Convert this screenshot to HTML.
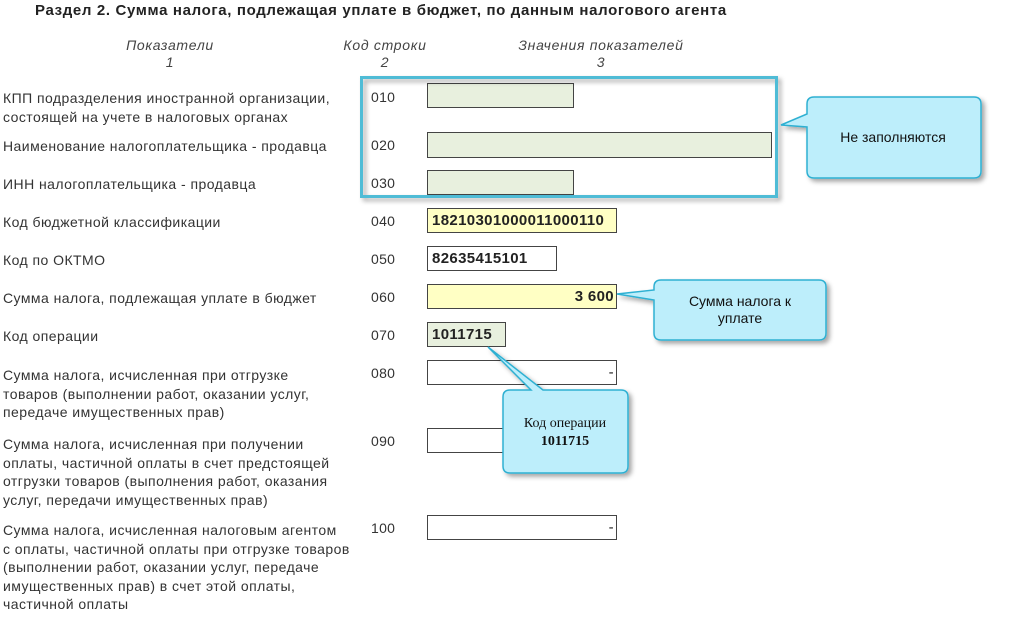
<!DOCTYPE html>
<html><head><meta charset="utf-8">
<style>
body{margin:0;width:1015px;height:627px;background:#fff;position:relative;overflow:hidden;font-family:"Liberation Sans",Arial,sans-serif;color:#333;}
.a{position:absolute;white-space:nowrap;}
.t{font-size:15px;font-weight:bold;color:#222;left:35px;top:2px;letter-spacing:0.65px;}
.h{font-size:14px;font-style:italic;color:#444;text-align:center;line-height:17px;letter-spacing:0.7px;}
.l{font-size:14px;line-height:18.5px;left:3px;letter-spacing:0.45px;}
.c{font-size:14px;left:371px;letter-spacing:0.3px;}
.b{position:absolute;border:1px solid #444;box-sizing:border-box;font-size:15px;font-weight:bold;color:#222;line-height:23px;padding:0 4px;background:#fff;letter-spacing:0.35px;}
.g{background:#e8f0de;}
.y{background:#ffffc4;}
.r{text-align:right;padding-right:2px;}
svg{position:absolute;left:0;top:0;}
</style></head><body>
<div class="a t">Раздел 2. Сумма налога, подлежащая уплате в бюджет, по данным налогового агента</div>
<div class="a h" style="left:80px;top:37px;width:180px">Показатели<br>1</div>
<div class="a h" style="left:315px;top:37px;width:140px">Код строки<br>2</div>
<div class="a h" style="left:490px;top:37px;width:222px">Значения показателей<br>3</div>

<div class="a l" style="top:89px">КПП подразделения иностранной организации,<br>состоящей на учете в налоговых органах</div>
<div class="a l" style="top:137px">Наименование налогоплательщика - продавца</div>
<div class="a l" style="top:175px">ИНН налогоплательщика - продавца</div>
<div class="a l" style="top:213px">Код бюджетной классификации</div>
<div class="a l" style="top:251px">Код по ОКТМО</div>
<div class="a l" style="top:289px">Сумма налога, подлежащая уплате в бюджет</div>
<div class="a l" style="top:327px">Код операции</div>
<div class="a l" style="top:366px">Сумма налога, исчисленная при отгрузке<br>товаров (выполнении работ, оказании услуг,<br>передаче имущественных прав)</div>
<div class="a l" style="top:435px">Сумма налога, исчисленная при получении<br>оплаты, частичной оплаты в счет предстоящей<br>отгрузки товаров (выполнения работ, оказания<br>услуг, передачи имущественных прав)</div>
<div class="a l" style="top:521px">Сумма налога, исчисленная налоговым агентом<br>с оплаты, частичной оплаты при отгрузке товаров<br>(выполнении работ, оказании услуг, передаче<br>имущественных прав) в счет этой оплаты,<br>частичной оплаты</div>

<div class="a c" style="top:89px">010</div>
<div class="a c" style="top:137px">020</div>
<div class="a c" style="top:175px">030</div>
<div class="a c" style="top:213px">040</div>
<div class="a c" style="top:251px">050</div>
<div class="a c" style="top:289px">060</div>
<div class="a c" style="top:327px">070</div>
<div class="a c" style="top:365px">080</div>
<div class="a c" style="top:433px">090</div>
<div class="a c" style="top:520px">100</div>

<div class="b g" style="left:427px;top:83px;width:147px;height:25px"></div>
<div class="b g" style="left:427px;top:132px;width:345px;height:26px"></div>
<div class="b g" style="left:427px;top:170px;width:147px;height:25px"></div>
<div class="b y" style="left:427px;top:208px;width:190px;height:25px">18210301000011000110</div>
<div class="b" style="left:427px;top:246px;width:130px;height:25px">82635415101</div>
<div class="b y r" style="left:427px;top:284px;width:190px;height:25px">3 600</div>
<div class="b g" style="left:427px;top:322px;width:79px;height:25px">1011715</div>
<div class="b r" style="left:427px;top:360px;width:190px;height:25px;font-weight:normal">-</div>
<div class="b r" style="left:427px;top:428px;width:190px;height:25px;font-weight:normal">-</div>
<div class="b r" style="left:427px;top:515px;width:190px;height:25px;font-weight:normal">-</div>

<svg width="1015" height="627">
<defs><filter id="s" x="-10%" y="-10%" width="130%" height="140%"><feDropShadow dx="3" dy="3" stdDeviation="2.5" flood-color="#000" flood-opacity="0.35"/></filter></defs>
<rect x="361.5" y="77.5" width="415" height="119" fill="none" stroke="#4fbcd6" stroke-width="3" filter="url(#s)"/>
<path d="M814,97 H974 Q981,97 981,104 V171 Q981,178 974,178 H814 Q807,178 807,171 V127 L781,125 L807,114 V104 Q807,97 814,97 Z" fill="#bdeefb" stroke="#2fb0d2" stroke-width="1.5" filter="url(#s)"/>
<text x="893" y="142" font-family="Liberation Sans,sans-serif" font-size="14" fill="#111" text-anchor="middle">Не заполняются</text>
<path d="M661,280 H819 Q826,280 826,287 V333 Q826,340 819,340 H661 Q654,340 654,333 V300 L617,294 L654,290 V287 Q654,280 661,280 Z" fill="#bdeefb" stroke="#2fb0d2" stroke-width="1.5" filter="url(#s)"/>
<text x="740" y="306" font-family="Liberation Sans,sans-serif" font-size="14" fill="#111" text-anchor="middle">Сумма налога к</text>
<text x="740" y="323" font-family="Liberation Sans,sans-serif" font-size="14" fill="#111" text-anchor="middle">уплате</text>
<path d="M510,390 H531 L488,347 L543,390 H621 Q628,390 628,397 V466 Q628,473 621,473 H510 Q503,473 503,466 V397 Q503,390 510,390 Z" fill="#bdeefb" stroke="#2fb0d2" stroke-width="1.5" filter="url(#s)"/>
<text x="565" y="427" font-family="Liberation Serif,serif" font-size="14" fill="#111" text-anchor="middle">Код операции</text>
<text x="565" y="445" font-family="Liberation Serif,serif" font-size="14" font-weight="bold" fill="#111" text-anchor="middle">1011715</text>
</svg>
</body></html>
